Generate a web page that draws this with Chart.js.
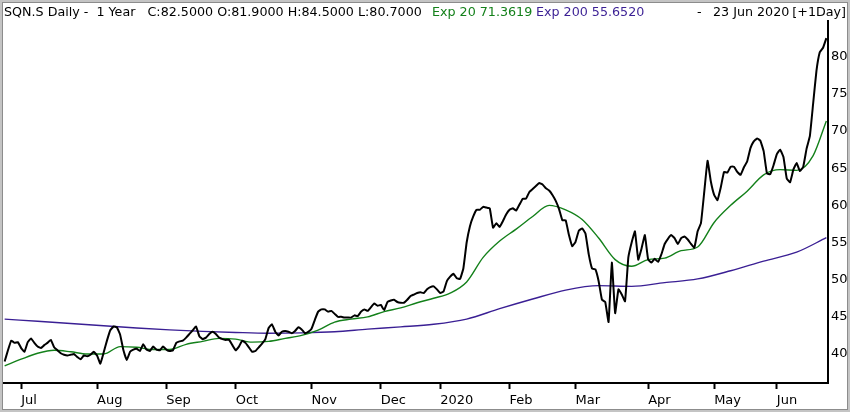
<!DOCTYPE html>
<html>
<head>
<meta charset="utf-8">
<script src="https://cdn.jsdelivr.net/npm/chart.js@4.4.1/dist/chart.umd.min.js"></script>
<style>
  html, body { margin: 0; padding: 0; background: #fff; }
  #wrap { width: 850px; height: 412px; }
</style>
</head>
<body>
<div id="wrap"><canvas id="chart" width="850" height="412"></canvas></div>
<script>
// daily closes, one array per month (trading days only)
const closeJun19 = [39.0, 40.5, 41.8, 41.5, 41.6];
const closeJul = [40.8, 40.3, 41.6, 42.1, 41.5, 41.0, 40.8, 41.2, 41.5, 41.9, 40.9, 40.5, 40.1, 39.9, 39.8, 39.9, 40.0, 39.6, 39.3, 39.8, 39.7, 39.9, 40.3];
const closeAug = [39.8, 38.7, 40.2, 41.8, 43.2, 43.7, 43.6, 42.6, 40.5, 39.2, 40.3, 40.6, 40.7, 40.4, 41.3, 40.6, 40.4, 41.0, 40.6, 40.5, 41.0];
const closeSep = [40.6, 40.4, 40.5, 41.5, 41.7, 41.8, 42.2, 42.7, 43.2, 43.7, 42.4, 42.0, 42.2, 42.7, 43.0, 42.7, 42.2, 42.0, 41.9, 41.9, 41.2];
const closeOct = [40.5, 41.0, 41.8, 41.5, 40.9, 40.3, 40.4, 40.9, 41.4, 42.0, 43.5, 44.0, 43.0, 42.5, 43.0, 43.1, 43.0, 42.8, 43.1, 43.6, 43.3, 42.8, 43.0];
const closeNov = [43.4, 44.6, 45.7, 46.0, 46.0, 45.7, 45.8, 45.4, 45.0, 45.0, 44.9, 44.9, 44.9, 45.2, 45.1, 45.7, 46.0, 45.8, 46.3, 46.8, 46.5];
const closeDec = [46.6, 45.9, 47.0, 47.2, 47.3, 47.0, 46.9, 46.9, 47.3, 47.8, 48.0, 48.2, 48.3, 48.2, 48.7, 49.0, 49.1, 48.7];
const closeJan = [48.2, 48.4, 49.8, 50.4, 50.8, 50.2, 50.1, 51.5, 55.0, 57.2, 58.5, 59.4, 59.4, 59.8, 59.7, 59.6, 57.0, 57.6, 57.1, 57.9, 58.8];
const closeFeb = [59.4, 59.6, 59.3, 60.1, 60.9, 60.9, 61.8, 62.2, 62.6, 63.0, 62.8, 62.3, 62.0, 61.4, 60.6, 59.5, 58.0, 58.0, 56.0, 54.5];
const closeMar = [55.1, 56.6, 56.9, 56.2, 53.4, 51.5, 51.4, 49.8, 47.3, 47.0, 44.3, 52.3, 45.5, 48.7, 48.0, 47.1, 53.0, 55.0, 56.5, 52.7, 54.2, 56.0];
const closeApr = [52.7, 52.3, 52.8, 52.4, 53.4, 54.8, 55.5, 56.0, 55.6, 54.8, 55.6, 55.8, 55.4, 54.8, 54.3, 56.5, 57.6, 61.8, 66.0, 63.2];
const closeMay = [61.4, 60.7, 62.4, 64.5, 64.4, 65.2, 65.2, 64.5, 64.1, 65.1, 65.9, 67.7, 68.6, 69.0, 68.7, 67.3, 64.3, 64.2, 65.4];
const closeJun20 = [66.9, 67.5, 66.5, 63.6, 63.1, 64.8, 65.7, 64.6, 65.2, 67.6, 69.3, 73.7, 78.1, 80.6, 81.2, 82.5];

const monthLabels = ['Jul', 'Aug', 'Sep', 'Oct', 'Nov', 'Dec', '2020', 'Feb', 'Mar', 'Apr', 'May', 'Jun'];

// moving averages, every 5th / 10th trading day (last value = last day)
const ema20 = [38.4, 39.3, 40.1, 40.5, 40.3, 40.0, 40.0, 41.0, 40.9, 40.6, 40.6, 41.3, 41.7, 42.1, 42.0, 41.6, 41.7, 42.1, 42.5, 43.2,
  44.3, 44.7, 45.0, 45.7, 46.2, 46.9, 47.5, 48.2, 49.7, 53.0, 55.2, 56.8, 58.5, 60.0, 59.4, 58.1, 55.6, 52.7, 51.8, 52.7,
  52.9, 53.9, 54.4, 57.7, 60.0, 61.9, 64.1, 64.8, 64.7, 66.7, 71.36];
const ema200 = [44.7, 44.4, 44.1, 43.8, 43.5, 43.25, 43.05, 42.9, 42.8, 42.85, 43.0, 43.35, 43.65, 44.0, 44.7, 46.1, 47.4,
  48.6, 49.2, 49.1, 49.6, 50.1, 51.2, 52.5, 53.7, 55.65];
const ema20Step = 5;
const ema200Step = 10;

const yTicks = [40, 45, 50, 55, 60, 65, 70, 75, 80];

const green = '#13801a';
const purple = '#3a1f94';

// stitch the months together and remember where each month starts
let closes = closeJun19.slice();
const monthStarts = [];
[closeJul, closeAug, closeSep, closeOct, closeNov, closeDec, closeJan, closeFeb, closeMar, closeApr, closeMay, closeJun20]
  .forEach(m => { monthStarts.push(closes.length); closes = closes.concat(m); });
const lastIdx = closes.length - 1;

const closeData = closes.map((v, i) => ({ x: i, y: v }));
const sampled = (arr, step) => arr.map((v, k) => ({ x: Math.min(k * step, lastIdx), y: v }));

// frame + header text
const headerPlugin = {
  id: 'header',
  afterDraw(chart) {
    const c = chart.ctx;
    c.save();
    c.strokeStyle = '#c4c4c4';
    c.lineWidth = 2;
    c.strokeRect(1, 1, 848, 410);
    c.strokeStyle = '#8c8c8c';
    c.lineWidth = 1;
    c.strokeRect(2.5, 2.5, 845, 407);

    c.font = '12.7px "DejaVu Sans"';
    c.textBaseline = 'middle';
    c.textAlign = 'left';
    c.fillStyle = '#000';
    c.fillText('SQN.S Daily -  1 Year   C:82.5000 O:81.9000 H:84.5000 L:80.7000', 4, 12.5);
    c.fillStyle = green;
    c.fillText('Exp 20 71.3619', 432, 12.5);
    c.fillStyle = purple;
    c.fillText('Exp 200 55.6520', 536, 12.5);
    c.fillStyle = '#000';
    c.fillText('-', 697, 12.5);
    c.fillText('23 Jun 2020', 713, 12.5);
    c.textAlign = 'right';
    c.fillText('[+1Day]', 846, 12.5);
    c.restore();
  }
};

const axisFont = { family: 'DejaVu Sans', size: 13 };

new Chart(document.getElementById('chart'), {
  type: 'line',
  data: {
    datasets: [
      { label: 'Close', data: closeData, borderColor: '#000', borderWidth: 2, pointRadius: 0, tension: 0.1,
        borderJoinStyle: 'round' },
      { label: 'Exp 20', data: sampled(ema20, ema20Step), borderColor: green, borderWidth: 1.4, pointRadius: 0,
        cubicInterpolationMode: 'monotone' },
      { label: 'Exp 200', data: sampled(ema200, ema200Step), borderColor: purple, borderWidth: 1.4, pointRadius: 0,
        cubicInterpolationMode: 'monotone' }
    ]
  },
  options: {
    responsive: false,
    animation: false,
    layout: { padding: { top: 21, left: 3, right: 0, bottom: 0 } },
    plugins: { legend: { display: false }, tooltip: { enabled: false } },
    scales: {
      x: {
        type: 'linear',
        min: -0.5,
        max: lastIdx + 0.5,
        afterBuildTicks: s => { s.ticks = monthStarts.map(v => ({ value: v })); },
        afterFit: s => { s.height = 29; },
        ticks: {
          autoSkip: false, maxRotation: 0, align: 'start', padding: 4, color: '#000', font: axisFont,
          callback: v => monthLabels[monthStarts.indexOf(v)]
        },
        grid: { drawOnChartArea: false, drawTicks: true, tickLength: 6, tickWidth: 2, tickColor: '#000' },
        border: { display: true, color: '#000', width: 2 }
      },
      y: {
        position: 'right',
        min: 36.1,
        max: 84.8,
        afterBuildTicks: s => { s.ticks = yTicks.map(v => ({ value: v })); },
        afterFit: s => { s.width = 22; },
        ticks: { padding: 3, color: '#000', font: axisFont },
        grid: { drawOnChartArea: false, drawTicks: false },
        border: { display: true, color: '#000', width: 2 }
      }
    }
  },
  plugins: [headerPlugin]
});
</script>
</body>
</html>
